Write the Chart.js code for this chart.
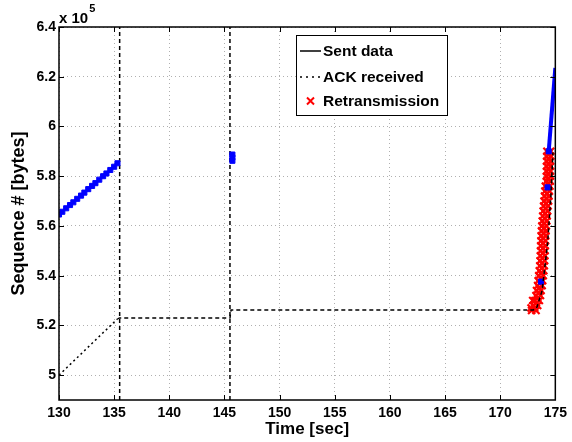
<!DOCTYPE html>
<html>
<head>
<meta charset="utf-8">
<script src="https://cdn.jsdelivr.net/npm/chart.js@4"></script>
<style>
  html, body { margin: 0; padding: 0; background: #fff; }
</style>
</head>
<body>
<canvas id="seqChart" width="572" height="442"></canvas>
<script>
// TCP sequence trace – sequence numbers in units of 10^5 bytes

const xTicks = [130, 135, 140, 145, 150, 155, 160, 165, 170, 175];
const yTicks = [5, 5.2, 5.4, 5.6, 5.8, 6, 6.2, 6.4];

// sent segments (square markers)
const sentTime = [130.0, 130.3, 130.65, 131.0, 131.3, 131.65, 132.0, 132.3, 132.65,
                  133.0, 133.3, 133.65, 134.0, 134.3, 134.65, 135.0, 135.3,
                  145.72, 145.72, 145.72,
                  173.7, 174.3, 174.4];
const sentSeq  = [5.646, 5.657, 5.671, 5.684, 5.695, 5.709, 5.722, 5.734, 5.748,
                  5.761, 5.772, 5.786, 5.800, 5.811, 5.825, 5.838, 5.852,
                  5.862, 5.875, 5.887,
                  5.376, 5.755, 5.900];

// burst after recovery
const sentLineTime = [174.4, 175.0];
const sentLineSeq  = [5.900, 6.235];

// retransmitted segments: left edge, right edge, then middle of the band
const retxTime = [172.85, 173.25, 173.0, 173.4, 173.15, 173.55, 173.25, 173.65, 173.3, 173.7,
                  173.4, 173.8, 173.45, 173.85, 173.5, 173.9, 173.55, 173.95, 173.6, 174.0,
                  173.62, 174.02, 173.65, 174.05, 173.67, 174.07, 173.68, 174.08, 173.7, 174.1,
                  173.72, 174.12, 173.75, 174.15, 173.78, 174.18, 173.82, 174.22, 173.86, 174.26,
                  173.9, 174.3, 173.94, 174.34, 173.98, 174.38, 174.02, 174.42, 174.06, 174.46,
                  174.1, 174.5, 174.2, 174.54, 174.2, 174.54, 174.21, 174.55, 174.21, 174.55,
                  174.22, 174.56, 174.23, 174.57, 174.24, 174.57,
                  172.8, 172.95,
                  173.12, 173.28, 173.4, 173.48, 173.55, 173.62, 173.68, 173.72, 173.78, 173.81,
                  173.84, 173.86, 173.88, 173.89, 173.91, 173.94, 173.97, 174.0, 174.04, 174.08,
                  174.12, 174.16, 174.2, 174.24, 174.28, 174.34, 174.37, 174.37, 174.38, 174.39,
                  174.39, 174.4];
const retxSeq  = [5.26, 5.26, 5.28, 5.28, 5.30, 5.30, 5.32, 5.32, 5.34, 5.34,
                  5.36, 5.36, 5.38, 5.38, 5.40, 5.40, 5.42, 5.42, 5.44, 5.44,
                  5.46, 5.46, 5.48, 5.48, 5.50, 5.50, 5.52, 5.52, 5.54, 5.54,
                  5.56, 5.56, 5.58, 5.58, 5.60, 5.60, 5.62, 5.62, 5.64, 5.64,
                  5.66, 5.66, 5.68, 5.68, 5.70, 5.70, 5.72, 5.72, 5.74, 5.74,
                  5.76, 5.76, 5.78, 5.78, 5.80, 5.80, 5.82, 5.82, 5.84, 5.84,
                  5.86, 5.86, 5.88, 5.88, 5.90, 5.90,
                  5.27, 5.30,
                  5.27, 5.29, 5.31, 5.33, 5.35, 5.37, 5.39, 5.41, 5.43, 5.45,
                  5.47, 5.49, 5.51, 5.53, 5.55, 5.57, 5.59, 5.61, 5.63, 5.65,
                  5.67, 5.69, 5.71, 5.73, 5.75, 5.77, 5.79, 5.81, 5.83, 5.85,
                  5.87, 5.89];

// cumulative ACKs
const ackTime = [130.0, 135.3, 135.5, 145.5, 145.6, 173.0, 173.3, 173.8, 174.3, 174.6, 174.78];
const ackSeq  = [5.000, 5.226, 5.230, 5.230, 5.262, 5.262, 5.268, 5.340, 5.530, 5.720, 5.895];

// retransmission timeouts
const timeoutTime = [135.5, 145.5];

const yMin = 4.9, yMax = 6.4;
const FONT = '"Liberation Sans", Arial, Helvetica, sans-serif';

function pts(xs, ys) {
  return xs.map((x, i) => ({ x: x, y: ys[i] }));
}

// vertical lines across the whole axis, broken by a null point
const timeoutData = [];
timeoutTime.forEach((t, i) => {
  if (i > 0) timeoutData.push({ x: t, y: null });
  timeoutData.push({ x: t, y: yMin }, { x: t, y: yMax });
});

// MATLAB-ish frame: box, inward ticks, exponent, legend
const matlabFrame = {
  id: 'matlabFrame',
  afterDraw(chart) {
    const { ctx, chartArea: a, scales: { x, y } } = chart;
    ctx.save();
    ctx.strokeStyle = '#000';
    ctx.lineWidth = 1;
    ctx.setLineDash([]);
    ctx.beginPath();
    x.ticks.forEach(t => {
      const px = Math.round(x.getPixelForValue(t.value)) + 0.5;
      ctx.moveTo(px, a.bottom); ctx.lineTo(px, a.bottom - 5);
      ctx.moveTo(px, a.top); ctx.lineTo(px, a.top + 5);
    });
    y.ticks.forEach(t => {
      const py = Math.round(y.getPixelForValue(t.value)) + 0.5;
      ctx.moveTo(a.left, py); ctx.lineTo(a.left + 5, py);
      ctx.moveTo(a.right, py); ctx.lineTo(a.right - 5, py);
    });
    ctx.stroke();
    ctx.lineWidth = 1.5;
    ctx.strokeRect(a.left, a.top, a.right - a.left, a.bottom - a.top);

    // x 10^5 exponent
    ctx.fillStyle = '#000';
    ctx.textBaseline = 'alphabetic';
    ctx.font = 'bold 15px ' + FONT;
    ctx.fillText('x 10', a.left, a.top - 4);
    const w = ctx.measureText('x 10').width;
    ctx.font = 'bold 11px ' + FONT;
    ctx.fillText('5', a.left + w + 1, a.top - 15);

    // legend box
    const bx = 296, by = 35, bw = 151, bh = 80;
    ctx.fillStyle = '#fff';
    ctx.fillRect(bx, by, bw, bh);
    ctx.lineWidth = 1;
    ctx.strokeRect(bx + 0.5, by + 0.5, bw, bh);

    const ds = chart.data.datasets;
    const rows = [
      { label: ds[0].label, y: 51 },
      { label: ds[2].label, y: 77 },
      { label: ds[3].label, y: 101 }
    ];
    // solid sample
    ctx.strokeStyle = '#000';
    ctx.lineWidth = 1.5;
    ctx.beginPath(); ctx.moveTo(300, rows[0].y); ctx.lineTo(321, rows[0].y); ctx.stroke();
    // dotted sample
    ctx.setLineDash([2, 4]);
    ctx.beginPath(); ctx.moveTo(300, rows[1].y); ctx.lineTo(321, rows[1].y); ctx.stroke();
    ctx.setLineDash([]);
    // red cross sample
    ctx.strokeStyle = '#ff0000';
    ctx.lineWidth = 2;
    ctx.beginPath();
    ctx.moveTo(307, rows[2].y - 3.5); ctx.lineTo(314, rows[2].y + 3.5);
    ctx.moveTo(314, rows[2].y - 3.5); ctx.lineTo(307, rows[2].y + 3.5);
    ctx.stroke();

    ctx.fillStyle = '#000';
    ctx.font = 'bold 15.5px ' + FONT;
    ctx.textBaseline = 'middle';
    rows.forEach(r => ctx.fillText(r.label, 323, r.y + 1));
    ctx.restore();
  }
};

const ctx = document.getElementById('seqChart').getContext('2d');

new Chart(ctx, {
  type: 'scatter',
  data: {
    datasets: [
      {
        label: 'Sent data',
        data: pts(sentTime, sentSeq),
        pointStyle: 'rect',
        pointRadius: 3.6,
        borderWidth: 1,
        borderColor: '#0000ff',
        backgroundColor: '#0000ff',
        order: 1
      },
      {
        label: 'Sent data (burst)',
        data: pts(sentLineTime, sentLineSeq),
        showLine: true,
        borderColor: '#0000ff',
        borderWidth: 4,
        pointRadius: 0,
        order: 2
      },
      {
        label: 'ACK received',
        data: pts(ackTime, ackSeq),
        showLine: true,
        borderColor: '#000',
        borderWidth: 1.5,
        borderDash: [4, 3],
        segment: {
          borderDash: c => c.p0DataIndex === 0 ? [2, 3] : undefined
        },
        pointRadius: 0,
        order: 0
      },
      {
        label: 'Retransmission',
        data: pts(retxTime, retxSeq),
        pointStyle: 'crossRot',
        pointRadius: 5,
        borderWidth: 2.2,
        borderColor: '#ff0000',
        backgroundColor: '#ff0000',
        order: 3
      },
      {
        label: 'Timeout',
        data: timeoutData,
        showLine: true,
        spanGaps: false,
        borderColor: '#000',
        borderWidth: 1.5,
        borderDash: [4, 3],
        pointRadius: 0,
        order: 4
      }
    ]
  },
  options: {
    responsive: false,
    animation: false,
    layout: { padding: { top: 27, right: 15, left: 0, bottom: 0 } },
    plugins: {
      legend: { display: false },
      tooltip: { enabled: false }
    },
    scales: {
      x: {
        type: 'linear',
        min: 130,
        max: 175,
        afterBuildTicks: s => { s.ticks = xTicks.map(v => ({ value: v })); },
        afterFit: s => { s.height = 42; },
        grid: { color: '#b0b0b0', lineWidth: 1, drawTicks: false },
        border: { display: false, dash: [1, 3] },
        ticks: {
          color: '#000',
          padding: 5,
          maxRotation: 0,
          font: { family: FONT, size: 14, weight: 'bold' }
        },
        title: {
          display: true,
          text: 'Time [sec]',
          color: '#000',
          padding: { top: 0, bottom: 2 },
          font: { family: FONT, size: 17, weight: 'bold' }
        }
      },
      y: {
        type: 'linear',
        min: yMin,
        max: yMax,
        afterBuildTicks: s => { s.ticks = yTicks.map(v => ({ value: v })); },
        afterFit: s => { s.width = 59; },
        grid: { color: '#b0b0b0', lineWidth: 1, drawTicks: false },
        border: { display: false, dash: [1, 3] },
        ticks: {
          color: '#000',
          padding: 3,
          font: { family: FONT, size: 14, weight: 'bold' },
          callback: v => String(+v.toFixed(1))
        },
        title: {
          display: true,
          text: 'Sequence # [bytes]',
          color: '#000',
          padding: { top: 8, bottom: 0 },
          font: { family: FONT, size: 18, weight: 'bold' }
        }
      }
    }
  },
  plugins: [matlabFrame]
});
</script>
</body>
</html>
